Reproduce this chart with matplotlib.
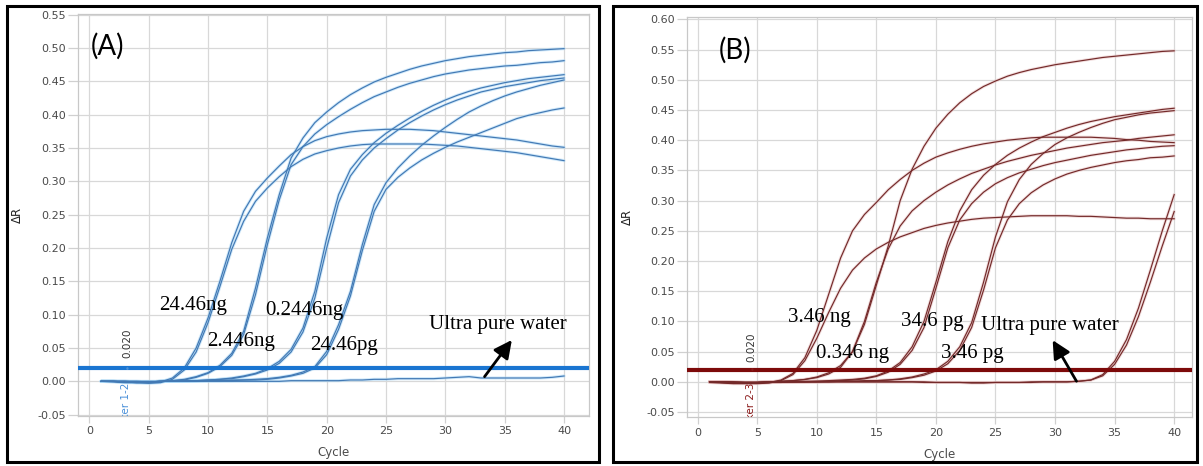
import numpy as np
import matplotlib
matplotlib.use("Agg")
import matplotlib.pyplot as plt
from matplotlib.patches import Rectangle

plt.rcParams['axes.unicode_minus'] = False

# amplification plots, delta R per cycle
cycles = np.arange(1, 41)

# (A) dilution series, two replicates each
a_24ng_1 = [0.000, 0.000, -0.001, -0.002, -0.002, -0.001, 0.005, 0.020, 0.050, 0.095,
            0.150, 0.208, 0.255, 0.285, 0.305, 0.323, 0.340, 0.352, 0.361, 0.367,
            0.371, 0.374, 0.376, 0.377, 0.378, 0.378, 0.378, 0.377, 0.376, 0.374,
            0.372, 0.370, 0.368, 0.366, 0.364, 0.362, 0.359, 0.356, 0.353, 0.351]
a_24ng_2 = [0.000, -0.001, -0.002, -0.002, -0.003, -0.002, 0.003, 0.017, 0.044, 0.088,
            0.142, 0.198, 0.240, 0.270, 0.290, 0.307, 0.322, 0.333, 0.341, 0.346,
            0.350, 0.353, 0.355, 0.356, 0.356, 0.356, 0.356, 0.356, 0.355, 0.354,
            0.353, 0.351, 0.349, 0.347, 0.345, 0.343, 0.340, 0.337, 0.334, 0.331]
a_2ng_1 = [0.000, 0.000, -0.001, -0.001, -0.001, 0.000, 0.001, 0.003, 0.007, 0.013,
           0.024, 0.042, 0.075, 0.140, 0.215, 0.280, 0.335, 0.365, 0.388, 0.404,
           0.418, 0.430, 0.440, 0.449, 0.456, 0.462, 0.468, 0.473, 0.477, 0.481,
           0.484, 0.487, 0.489, 0.491, 0.493, 0.494, 0.496, 0.497, 0.498, 0.499]
a_2ng_2 = [0.000, 0.000, -0.001, -0.002, -0.001, 0.000, 0.001, 0.002, 0.006, 0.012,
           0.022, 0.039, 0.070, 0.130, 0.205, 0.272, 0.325, 0.352, 0.371, 0.385,
           0.397, 0.408, 0.418, 0.427, 0.434, 0.441, 0.447, 0.452, 0.457, 0.461,
           0.464, 0.467, 0.469, 0.471, 0.473, 0.474, 0.476, 0.478, 0.479, 0.481]
a_02ng_1 = [0.000, 0.000, 0.000, -0.001, -0.001, 0.000, 0.000, 0.001, 0.001, 0.002,
            0.003, 0.005, 0.008, 0.012, 0.019, 0.030, 0.048, 0.080, 0.135, 0.215,
            0.280, 0.318, 0.340, 0.358, 0.372, 0.384, 0.395, 0.405, 0.414, 0.422,
            0.429, 0.435, 0.440, 0.444, 0.448, 0.451, 0.454, 0.456, 0.458, 0.460]
a_02ng_2 = [0.000, 0.000, -0.001, -0.001, -0.001, 0.000, 0.000, 0.000, 0.001, 0.002,
            0.003, 0.004, 0.007, 0.011, 0.017, 0.027, 0.044, 0.074, 0.125, 0.200,
            0.268, 0.308, 0.332, 0.350, 0.364, 0.377, 0.388, 0.398, 0.407, 0.415,
            0.422, 0.428, 0.434, 0.438, 0.442, 0.445, 0.448, 0.451, 0.453, 0.455]
a_24pg_1 = [0.000, 0.000, 0.000, 0.000, -0.001, 0.000, 0.000, 0.000, 0.001, 0.001,
            0.001, 0.002, 0.002, 0.003, 0.004, 0.006, 0.009, 0.014, 0.022, 0.045,
            0.085, 0.135, 0.205, 0.265, 0.298, 0.320, 0.338, 0.354, 0.368, 0.381,
            0.393, 0.404, 0.413, 0.421, 0.428, 0.434, 0.439, 0.444, 0.448, 0.452]
a_24pg_2 = [0.000, 0.000, 0.000, -0.001, -0.001, 0.000, 0.000, 0.000, 0.000, 0.001,
            0.001, 0.001, 0.002, 0.002, 0.003, 0.005, 0.008, 0.012, 0.020, 0.040,
            0.078, 0.128, 0.196, 0.255, 0.288, 0.306, 0.320, 0.332, 0.342, 0.351,
            0.359, 0.366, 0.373, 0.380, 0.387, 0.394, 0.399, 0.403, 0.407, 0.410]
a_water = [0.000, 0.000, 0.000, 0.000, 0.000, 0.000, 0.000, 0.000, 0.000, 0.000,
           0.000, 0.000, 0.000, 0.000, 0.000, 0.000, 0.001, 0.001, 0.001, 0.001,
           0.001, 0.002, 0.002, 0.003, 0.003, 0.004, 0.004, 0.004, 0.004, 0.005,
           0.006, 0.007, 0.005, 0.005, 0.005, 0.005, 0.005, 0.005, 0.006, 0.008]

# (B) dilution series, two replicates each
b_3ng_1 = [0.000, -0.001, -0.002, -0.002, -0.002, -0.001, 0.003, 0.014, 0.040, 0.085,
           0.145, 0.205, 0.250, 0.277, 0.297, 0.318, 0.335, 0.350, 0.362, 0.372,
           0.379, 0.385, 0.390, 0.394, 0.397, 0.400, 0.402, 0.404, 0.405, 0.405,
           0.405, 0.405, 0.405, 0.404, 0.403, 0.401, 0.400, 0.398, 0.397, 0.396]
b_3ng_2 = [-0.001, -0.002, -0.003, -0.003, -0.003, -0.002, 0.002, 0.012, 0.035, 0.072,
           0.115, 0.155, 0.185, 0.205, 0.220, 0.231, 0.240, 0.247, 0.254, 0.259,
           0.263, 0.266, 0.269, 0.271, 0.272, 0.273, 0.274, 0.275, 0.275, 0.275,
           0.275, 0.274, 0.274, 0.273, 0.272, 0.271, 0.271, 0.270, 0.270, 0.270]
b_03ng_1 = [0.000, 0.000, -0.001, -0.001, -0.001, 0.000, 0.001, 0.002, 0.004, 0.008,
            0.015, 0.027, 0.050, 0.095, 0.160, 0.225, 0.300, 0.352, 0.390, 0.420,
            0.443, 0.462, 0.477, 0.489, 0.498, 0.506, 0.512, 0.517, 0.521, 0.525,
            0.528, 0.531, 0.534, 0.537, 0.539, 0.541, 0.543, 0.545, 0.547, 0.548]
b_03ng_2 = [0.000, -0.001, -0.001, -0.002, -0.001, 0.000, 0.001, 0.002, 0.004, 0.007,
            0.013, 0.024, 0.050, 0.100, 0.165, 0.220, 0.258, 0.283, 0.300, 0.314,
            0.326, 0.336, 0.345, 0.352, 0.359, 0.365, 0.370, 0.375, 0.379, 0.383,
            0.387, 0.390, 0.393, 0.396, 0.398, 0.400, 0.403, 0.405, 0.407, 0.409]
b_34pg_1 = [0.000, 0.000, 0.000, -0.001, -0.001, -0.001, 0.000, 0.000, 0.001, 0.001,
            0.002, 0.003, 0.004, 0.006, 0.010, 0.018, 0.032, 0.058, 0.100, 0.165,
            0.232, 0.283, 0.318, 0.342, 0.360, 0.375, 0.387, 0.397, 0.406, 0.413,
            0.420, 0.426, 0.431, 0.435, 0.439, 0.442, 0.445, 0.448, 0.451, 0.453]
b_34pg_2 = [0.000, 0.000, -0.001, -0.001, -0.001, 0.000, 0.000, 0.000, 0.000, 0.001,
            0.001, 0.002, 0.003, 0.005, 0.009, 0.016, 0.029, 0.052, 0.090, 0.155,
            0.222, 0.268, 0.295, 0.314, 0.328, 0.338, 0.346, 0.352, 0.358, 0.363,
            0.367, 0.371, 0.375, 0.378, 0.381, 0.384, 0.386, 0.388, 0.390, 0.391]
b_3pg_1 = [0.000, 0.000, 0.000, -0.001, -0.001, -0.001, -0.001, 0.000, 0.000, 0.000,
           0.001, 0.001, 0.001, 0.002, 0.002, 0.003, 0.005, 0.008, 0.013, 0.020,
           0.034, 0.058, 0.098, 0.165, 0.240, 0.298, 0.335, 0.360, 0.378, 0.393,
           0.404, 0.413, 0.421, 0.428, 0.434, 0.438, 0.442, 0.445, 0.447, 0.449]
b_3pg_2 = [0.000, 0.000, -0.001, -0.001, -0.001, -0.001, 0.000, 0.000, 0.000, 0.000,
           0.000, 0.001, 0.001, 0.001, 0.002, 0.003, 0.004, 0.007, 0.011, 0.018,
           0.030, 0.052, 0.090, 0.152, 0.222, 0.268, 0.295, 0.313, 0.326, 0.336,
           0.344, 0.350, 0.355, 0.359, 0.363, 0.366, 0.368, 0.371, 0.372, 0.374]
b_water_1 = [0.000, 0.000, -0.001, -0.001, -0.001, 0.000, 0.000, 0.000, 0.000, 0.000,
             0.000, 0.000, 0.000, 0.000, 0.000, 0.000, 0.000, 0.000, 0.000, -0.001,
             -0.001, -0.001, -0.001, -0.001, -0.001, -0.001, -0.001, 0.000, 0.000, 0.000,
             0.000, 0.001, 0.003, 0.012, 0.034, 0.070, 0.122, 0.185, 0.250, 0.310]
b_water_2 = [0.000, 0.000, -0.001, -0.001, -0.001, 0.000, 0.000, 0.000, 0.000, 0.000,
             0.000, 0.000, 0.000, 0.000, 0.000, 0.000, 0.000, 0.000, -0.001, -0.001,
             -0.001, -0.001, -0.002, -0.002, -0.001, -0.001, -0.001, -0.001, 0.000, 0.000,
             0.000, 0.001, 0.003, 0.010, 0.029, 0.061, 0.108, 0.165, 0.225, 0.282]

threshold = 0.020
x_ticks = [0, 5, 10, 15, 20, 25, 30, 35, 40]
a_yticks = [-0.05, 0.00, 0.05, 0.10, 0.15, 0.20, 0.25, 0.30, 0.35, 0.40, 0.45, 0.50, 0.55]
b_yticks = [-0.05, 0.00, 0.05, 0.10, 0.15, 0.20, 0.25, 0.30, 0.35, 0.40, 0.45, 0.50, 0.55, 0.60]

# (text, cycle, dR) for the concentration labels
a_labels = [("24.46ng", 5.9, 0.107), ("2.446ng", 9.9, 0.053),
            ("0.2446ng", 14.8, 0.100), ("24.46pg", 18.6, 0.047)]
b_labels = [("3.46 ng", 7.6, 0.099), ("0.346 ng", 9.95, 0.039),
            ("34.6 pg", 17.1, 0.092), ("3.46 pg", 20.45, 0.039)]

panel_a = [a_24ng_1, a_24ng_2, a_2ng_1, a_2ng_2, a_02ng_1, a_02ng_2,
           a_24pg_1, a_24pg_2, a_water]
panel_b = [b_3ng_1, b_3ng_2, b_03ng_1, b_03ng_2, b_34pg_1, b_34pg_2,
           b_3pg_1, b_3pg_2, b_water_1, b_water_2]

GRAY = '#4a4a4a'


def style_axes(ax, yticks, xlim, ylim):
    ax.set_xlim(*xlim)
    ax.set_ylim(*ylim)
    ax.set_xticks(x_ticks)
    ax.set_xticklabels([str(t) for t in x_ticks])
    ax.set_yticks(yticks)
    ax.set_yticklabels(['%.2f' % t for t in yticks])
    ax.grid(True, color='#d8d8d8', lw=0.9)
    ax.set_axisbelow(True)
    for sp in ax.spines.values():
        sp.set_color('#c8c8c8')
        sp.set_linewidth(0.9)
    ax.tick_params(axis='y', length=7.5, width=0.9, color='#d0d0d0',
                   labelsize=8, labelcolor=GRAY, pad=1)
    ax.tick_params(axis='x', length=5, width=0.9, color='#d0d0d0',
                   labelsize=8, labelcolor=GRAY, pad=2.5)
    ax.text(0.5, -0.092, 'Cycle', transform=ax.transAxes, ha='center',
            va='center', fontsize=8.5, color=GRAY)
    ax.text(-0.117, 0.5, 'ΔR', transform=ax.transAxes, ha='center',
            va='center', rotation=90, fontsize=8.5, color='#222222')


def draw_panel(ax, curves, core, halo, thr_color, marker_text, marker_color,
               thr_x, labels, water_xy, arrow_head, arrow_tail, tag, tag_xy):
    for vals in curves:
        ax.plot(cycles, vals, color=halo, lw=2.2, alpha=0.55, solid_capstyle='round', zorder=2)
    for vals in curves:
        ax.plot(cycles, vals, color=core, lw=0.85, zorder=3)
    ax.axhline(threshold, color=thr_color, lw=3.0, zorder=4)

    # threshold marker text
    ax.text(thr_x, 0.057, '%.3f' % threshold, rotation=90, ha='center', va='center',
            fontsize=7.5, color='#333333', zorder=5)
    ax.text(thr_x, threshold - 0.002, '•', ha='center', va='center',
            fontsize=6, color=marker_color, zorder=5)
    ax.text(thr_x - 0.1, -0.002, marker_text, rotation=90, ha='center', va='top',
            fontsize=7.5, color=marker_color, clip_on=True, zorder=5)

    for txt, x, y in labels:
        ax.text(x, y, txt, family='Liberation Serif', fontsize=15,
                ha='left', va='baseline', color='black', zorder=6)
    ax.text(water_xy[0], water_xy[1], 'Ultra pure water', family='Liberation Serif',
            fontsize=15, ha='left', va='baseline', color='black', zorder=6)
    ax.annotate('', xy=arrow_head, xytext=arrow_tail,
                arrowprops=dict(arrowstyle='-|>,head_length=0.9,head_width=0.45',
                                color='black', lw=2, mutation_scale=12,
                                shrinkA=0, shrinkB=0), zorder=6)
    ax.text(tag_xy[0], tag_xy[1], tag, family='Lato', fontsize=20,
            ha='left', va='center', color='black', zorder=6)


fig = plt.figure(figsize=(12.03, 4.66), dpi=100)
fig.patch.set_facecolor('white')

ax_a = fig.add_axes([0.0646, 0.1073, 0.4250, 0.8627])
ax_b = fig.add_axes([0.5708, 0.1041, 0.4201, 0.8594])

style_axes(ax_a, a_yticks, (-0.98, 42.1), (-0.052, 0.551))
style_axes(ax_b, b_yticks, (-0.92, 41.5), (-0.059, 0.604))

draw_panel(ax_a, panel_a, '#4279b4', '#a8d6f6', '#1a75d1', 'Marker 1-2', '#4a90d9',
           3.2, a_labels, (28.65, 0.079), (35.6, 0.062), (33.3, 0.007),
           '(A)', (0.1, 0.502))
draw_panel(ax_b, panel_b, '#742a2a', '#e6c2c2', '#7d0a0a', 'Marker 2-3', '#8b1a1a',
           4.55, b_labels, (23.8, 0.0856), (29.8, 0.069), (31.8, 0.001),
           '(B)', (1.75, 0.549))

# black frames round each panel
fig.add_artist(Rectangle((0.0058, 0.0086), 0.4921, 0.9785, transform=fig.transFigure,
                         fill=False, edgecolor='black', lw=2.2))
fig.add_artist(Rectangle((0.5096, 0.0086), 0.4855, 0.9785, transform=fig.transFigure,
                         fill=False, edgecolor='black', lw=2.2))

fig.savefig('out.png', dpi=100)
